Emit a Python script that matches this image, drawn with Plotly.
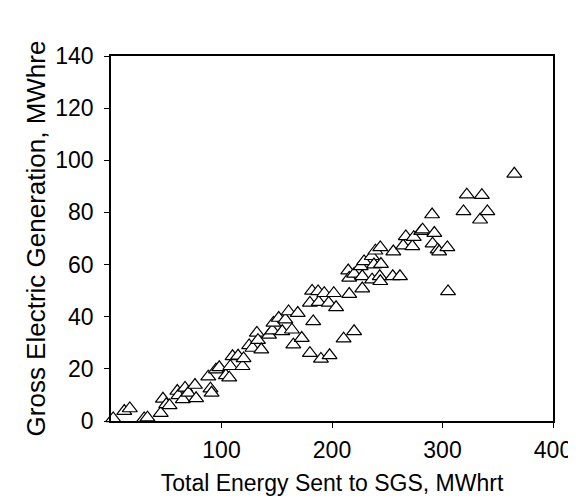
import plotly.graph_objects as go

energy_sent = [2, 12, 17, 30, 33, 45, 47, 50, 53, 60, 61, 65, 67, 70, 76, 77, 88, 90, 91,
               95, 98, 104, 107, 108, 110, 115, 119, 120, 125, 128, 132, 133, 136,
               143, 146, 147, 151.8, 155, 157.8, 160.7, 163.7, 165, 169, 172.6,
               180, 180, 182, 183, 187.4, 188, 190, 193, 197, 197.8, 201.6, 203.7, 210.5,
               214.7, 215.6, 215.6, 220, 220, 226, 227.4, 227.4, 229, 236, 236.3, 238, 239.3,
               243.2, 243.7, 243.7, 244.3, 255, 255.5, 261.5, 264.4, 266.8, 272.7, 274,
               280.7, 282, 290.6, 291, 292.6, 295.6, 297, 304.4, 305,
               319, 322, 334, 335.6, 340.6, 365]
gross_generation = [1, 3.8, 4.8, 1, 1.3, 3, 8.5, 6.4, 6, 11.5, 9.8, 8.3, 12.7, 10.8, 13.8, 8.7, 17, 12.4, 10.8,
                    19.7, 20.6, 17.5, 16.6, 21, 24.8, 25, 21, 24, 29, 28, 33.8, 31, 27.4,
                    33, 34.7, 37.6, 39.5, 34.4, 38.9, 42, 35, 29.3, 41.4, 31.8,
                    45.3, 26, 49.9, 38.2, 49.7, 45.6, 23.8, 49, 45.3, 25.2, 49, 43.6, 31.6,
                    57.7, 54.9, 48.7, 56.4, 34.4, 59.3, 55.5, 50.8, 61.2, 63.2, 54.2, 60, 65.3,
                    55.5, 66.6, 53.6, 60.2, 55.5, 65, 55.5, 67.3, 70.8, 67, 70.5,
                    72.8, 73.4, 79.2, 68, 72.1, 65.7, 65, 66.6, 49.7,
                    80.4, 86.8, 77.2, 86.6, 80.4, 94.8]

x_ticks = [100, 200, 300, 400]
y_ticks = [0, 20, 40, 60, 80, 100, 120, 140]

font_family = "Liberation Sans, Arial, sans-serif"

fig = go.Figure()
fig.add_trace(go.Scatter(
    x=energy_sent, y=gross_generation, mode="markers",
    marker=dict(symbol="triangle-up", size=13, color="white",
                line=dict(color="black", width=1.2)),
    cliponaxis=False, showlegend=False,
))

fig.update_layout(
    width=576, height=500,
    margin=dict(l=103, r=23, t=48, b=87),
    paper_bgcolor="white", plot_bgcolor="white",
    font=dict(family=font_family, color="black", size=23),
    xaxis=dict(range=[0, 400], tickvals=x_ticks, ticks="outside", ticklen=5,
               tickcolor="black", showline=True, linecolor="black", linewidth=1.5,
               mirror=True, showgrid=False, zeroline=False,
               tickfont=dict(size=23), ticklabelstandoff=3,
               title=dict(text="Total Energy Sent to SGS, MWhrt", font=dict(size=23), standoff=13)),
    yaxis=dict(range=[0, 140], tickvals=y_ticks, ticks="outside", ticklen=5,
               tickcolor="black", showline=True, linecolor="black", linewidth=1.5,
               mirror=True, showgrid=False, zeroline=False,
               tickfont=dict(size=23), ticklabelstandoff=6,
               title=dict(text="Gross Electric Generation, MWhre", font=dict(size=26), standoff=2)),
)

fig.write_html("out.html")
